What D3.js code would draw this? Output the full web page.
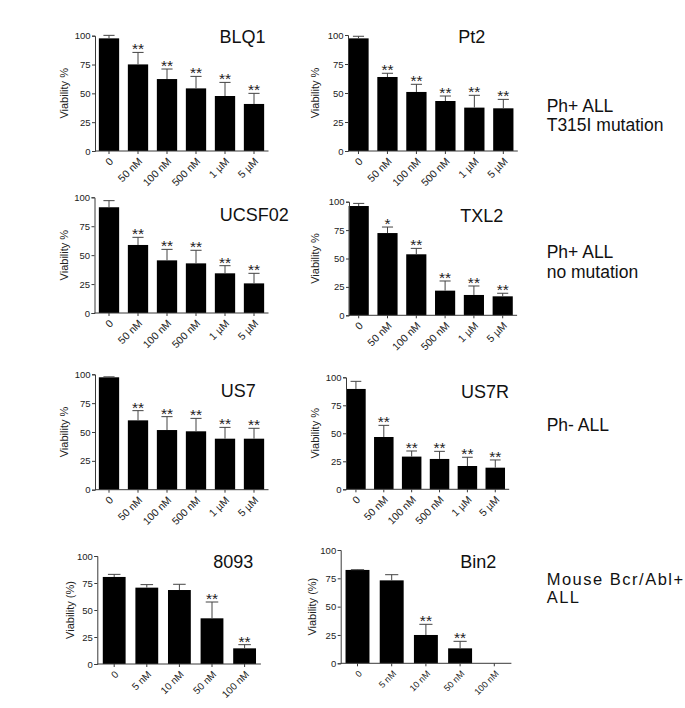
<!DOCTYPE html>
<html><head><meta charset="utf-8">
<script src="https://cdn.jsdelivr.net/npm/d3@7"></script>
<style>
html,body{margin:0;padding:0;background:#fff;}
svg{display:block;font-family:"Liberation Sans",Arial,sans-serif;}
</style></head>
<body>
<svg id="chart" width="685" height="708"></svg>
<script>
// ---------- data ----------
const conc6 = ["0", "50 nM", "100 nM", "500 nM", "1 \u00b5M", "5 \u00b5M"];
const conc5 = ["0", "5 nM", "10 nM", "50 nM", "100 nM"];
const yTicks = [0, 25, 50, 75, 100];

const blq1Mean = [97.7, 75.1, 62.4, 54.3, 47.7, 40.8];
const blq1Err  = [2.6, 10.4, 8.7, 10.4, 11.8, 9.2];
const blq1Sig  = ["", "**", "**", "**", "**", "**"];

const pt2Mean = [97.1, 63.8, 50.9, 43.1, 37.4, 36.8];
const pt2Err  = [1.8, 3.2, 6.6, 4.3, 10.6, 7.7];
const pt2Sig  = ["", "**", "**", "**", "**", "**"];

const ucsf02Mean = [91.4, 58.8, 45.5, 42.9, 34.3, 25.6];
const ucsf02Err  = [5.7, 6.6, 9.5, 11.3, 6.6, 8.7];
const ucsf02Sig  = ["", "**", "**", "**", "**", "**"];

const txl2Mean = [96.2, 72.4, 53.7, 21.7, 17.9, 16.7];
const txl2Err  = [2.3, 5.3, 5.2, 8.5, 7.9, 2.7];
const txl2Sig  = ["", "*", "**", "**", "**", "**"];

const us7Mean = [97.4, 60.1, 51.7, 50.6, 44.2, 44.2];
const us7Err  = [0.4, 8.4, 11.6, 11.2, 9.8, 9.0];
const us7Sig  = ["", "**", "**", "**", "**", "**"];

const us7rMean = [89.6, 46.7, 29.2, 27.1, 20.8, 19.3];
const us7rErr  = [6.8, 10.4, 5.0, 6.8, 7.8, 6.9];
const us7rSig  = ["", "**", "**", "**", "**", "**"];

const m8093Mean = [80.6, 70.7, 68.5, 42.3, 14.5];
const m8093Err  = [2.4, 2.8, 5.3, 15.1, 3.4];
const m8093Sig  = ["", "", "", "**", "**"];

const bin2Mean = [82.4, 73.2, 25.0, 13.2, 0];
const bin2Err  = [0.2, 5.0, 9.4, 6.2, 0];
const bin2Sig  = ["", "", "**", "**", ""];

const groupLabels = [
  ["Ph+ ALL", "T315I mutation"],
  ["Ph+ ALL", "no mutation"],
  ["Ph- ALL"],
  ["Mouse Bcr/Abl+", "ALL"]
];

// ---------- layout ----------
const panels = [
  {title:"BLQ1",   cats:conc6, mean:blq1Mean,   err:blq1Err,   sig:blq1Sig,   ylab:"Viability %",
   ax:95,    r:[94.5,268.5], y0:151,   y100:35.7,  tx:242.5, ty:42.7,  lx:68,    xf:10.5},
  {title:"Pt2",    cats:conc6, mean:pt2Mean,    err:pt2Err,    sig:pt2Sig,    ylab:"Viability %",
   ax:348,   r:[344,517.8],  y0:151,   y100:35,    tx:471.7, ty:42.7,  lx:318.5, xf:10.5},
  {title:"UCSF02", cats:conc6, mean:ucsf02Mean, err:ucsf02Err, sig:ucsf02Sig, ylab:"Viability %",
   ax:94.5,  r:[94.5,268.5], y0:313,   y100:197.3, tx:254.2, ty:220.7, lx:68,    xf:10.5},
  {title:"TXL2",   cats:conc6, mean:txl2Mean,   err:txl2Err,   sig:txl2Sig,   ylab:"Viability %",
   ax:349,   r:[344.3,517.1],y0:315.3, y100:201.7, tx:481.7, ty:221.7, lx:319,   xf:10.5},
  {title:"US7",    cats:conc6, mean:us7Mean,    err:us7Err,    sig:us7Sig,    ylab:"Viability %",
   ax:95,    r:[94.5,268.5], y0:489.7, y100:374.3, tx:238.3, ty:397.3, lx:68,    xf:10.5},
  {title:"US7R",   cats:conc6, mean:us7rMean,   err:us7rErr,   sig:us7rSig,   ylab:"Viability %",
   ax:346,   r:[342,509.2],  y0:489.3, y100:377.3, tx:485,   ty:397.7, lx:319,   xf:10.5},
  {title:"8093",   cats:conc5, mean:m8093Mean,  err:m8093Err,  sig:m8093Sig,  ylab:"Viability (%)",
   ax:97.3,  r:[97.9,260.9], y0:664,   y100:556,   tx:233.3, ty:567.7, lx:73.5,  xf:10},
  {title:"Bin2",   cats:conc5, mean:bin2Mean,   err:bin2Err,   sig:bin2Sig,   ylab:"Viability (%)",
   ax:340.7, r:[340.4,511.4],y0:663.3, y100:550,   tx:478.3, ty:568.3, lx:316,   xf:9}
];
const groupPos = [
  {x:546.7, ys:[111.7,131], fs:17.5},
  {x:546.7, ys:[258.3,277.7], fs:17.5},
  {x:546.7, ys:[430.7], fs:17.5},
  {x:546.7, ys:[585,603], fs:16.5, ls:1.5}
];

const AXIS = "#3a3a3a";
const svg = d3.select("#chart");

panels.forEach(p => {
  const g = svg.append("g");
  const x = d3.scaleBand().domain(p.cats).range(p.r).paddingInner(0.3).paddingOuter(0.15);
  const y = d3.scaleLinear().domain([0,100]).range([p.y0, p.y100]);
  const rows = p.cats.map((c,i) => ({c, m:p.mean[i], e:p.err[i], s:p.sig[i]}));

  // bars
  g.selectAll("rect.bar").data(rows).join("rect")
    .attr("x", d => x(d.c)).attr("width", x.bandwidth())
    .attr("y", d => y(d.m)).attr("height", d => y(0) - y(d.m))
    .attr("fill", "#000");

  // error bars (upper only)
  const capW = x.bandwidth() * 0.55;
  const eb = g.selectAll("g.eb").data(rows.filter(d => d.e > 0)).join("g");
  eb.append("line")
    .attr("x1", d => x(d.c) + x.bandwidth()/2).attr("x2", d => x(d.c) + x.bandwidth()/2)
    .attr("y1", d => y(d.m)).attr("y2", d => y(d.m + d.e))
    .attr("stroke", "#444").attr("stroke-width", 1);
  eb.append("line")
    .attr("x1", d => x(d.c) + x.bandwidth()/2 - capW/2).attr("x2", d => x(d.c) + x.bandwidth()/2 + capW/2)
    .attr("y1", d => y(d.m + d.e)).attr("y2", d => y(d.m + d.e))
    .attr("stroke", "#444").attr("stroke-width", 1);

  // significance stars
  g.selectAll("text.sig").data(rows.filter(d => d.s)).join("text")
    .attr("x", d => x(d.c) + x.bandwidth()/2)
    .attr("y", d => y(d.m + d.e) + 2)
    .attr("text-anchor", "middle").attr("font-size", 15.5).attr("fill", "#222")
    .text(d => d.s);

  // y axis
  const yAxis = d3.axisLeft(y).tickValues(yTicks).tickSize(3).tickPadding(1.5);
  const ya = g.append("g").attr("transform", `translate(${p.ax},0)`).call(yAxis);
  ya.select(".domain").attr("stroke", AXIS);
  ya.selectAll(".tick line").attr("stroke", AXIS);
  ya.selectAll(".tick text").attr("font-size", 9.5).attr("fill", "#222")
    .attr("font-family", "'Liberation Sans',Arial,sans-serif");

  // x axis
  const xAxis = d3.axisBottom(x).tickSize(3).tickSizeOuter(0);
  const xa = g.append("g").attr("transform", `translate(0,${p.y0})`).call(xAxis);
  xa.select(".domain").remove();
  xa.append("line").attr("x1", p.ax).attr("x2", p.r[1]).attr("y1", 0).attr("y2", 0).attr("stroke", AXIS);
  xa.selectAll(".tick line").attr("stroke", AXIS);
  xa.selectAll(".tick text")
    .attr("font-size", p.xf).attr("fill", "#222")
    .attr("font-family", "'Liberation Sans',Arial,sans-serif")
    .attr("text-anchor", "end")
    .attr("dy", null)
    .attr("y", 0)
    .attr("transform", "translate(5,11) rotate(-45)");

  // y label
  g.append("text")
    .attr("transform", `translate(${p.lx},${(p.y0 + p.y100)/2}) rotate(-90)`)
    .attr("text-anchor", "middle").attr("font-size", 11).attr("fill", "#222")
    .text(p.ylab);

  // title
  g.append("text").attr("x", p.tx).attr("y", p.ty)
    .attr("text-anchor", "middle").attr("font-size", 18).attr("fill", "#111")
    .text(p.title);
});

groupLabels.forEach((lines, i) => {
  const gp = groupPos[i];
  lines.forEach((t, j) => {
    svg.append("text").attr("x", gp.x).attr("y", gp.ys[j])
      .attr("font-size", gp.fs).attr("fill", "#111")
      .attr("letter-spacing", gp.ls || 0)
      .text(t);
  });
});
</script>
</body></html>
